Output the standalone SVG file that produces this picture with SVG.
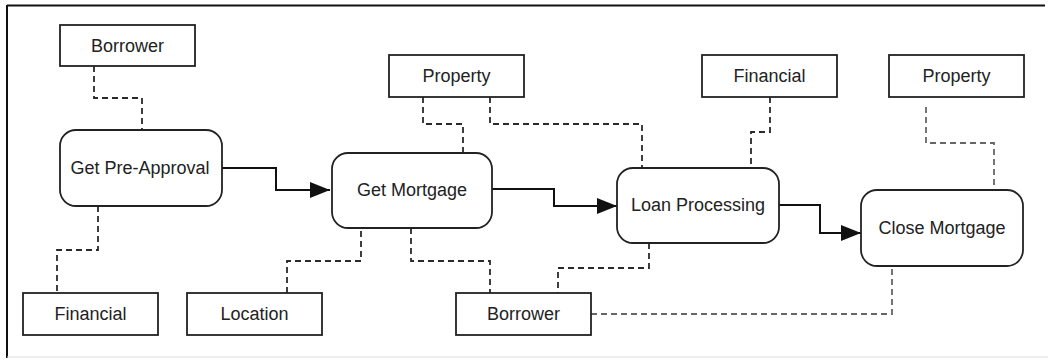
<svg xmlns="http://www.w3.org/2000/svg" width="1050" height="360" viewBox="0 0 1050 360">
<defs>
<marker id="arr" viewBox="0 0 20 16" refX="20" refY="8" markerWidth="20" markerHeight="16" markerUnits="userSpaceOnUse" orient="auto">
<path d="M0,0 L20,8 L0,16 Z" fill="#111"/>
</marker>
</defs>
<style>
.box{fill:#fff;stroke:#222;stroke-width:1.8}
.proc{fill:#fff;stroke:#222;stroke-width:1.8}
.t{font-family:"Liberation Sans",Arial,sans-serif;font-size:18px;fill:#222;text-anchor:middle}
.dash{fill:none;stroke:#2a2a2a;stroke-width:1.8;stroke-dasharray:6 4}
.dashl{fill:none;stroke:#666;stroke-width:1.8;stroke-dasharray:6 4}
.flow{fill:none;stroke:#111;stroke-width:2;marker-end:url(#arr)}
</style>
<rect width="1050" height="360" fill="#fff"/>
<g id="frame">
<line x1="7" y1="5.5" x2="1045" y2="5.5" stroke="#111" stroke-width="2"/>
<line x1="7" y1="5" x2="7" y2="358" stroke="#111" stroke-width="2"/>
<line x1="7" y1="357" x2="1048" y2="357" stroke="#ddd" stroke-width="1"/>
</g>
<g id="connectors">
<polyline class="dash" points="94,66 94,98 142,98 142,130"/>
<polyline class="dash" points="98,206 98,250 57,250 57,293"/>
<polyline class="dash" points="287,293 287,261 361,261 361,228"/>
<polyline class="dash" points="423,97 423,124 463,124 463,153"/>
<polyline class="dash" points="490,97 490,124 642,124 642,168"/>
<polyline class="dash" points="411,228 411,261 490,261 490,293"/>
<polyline class="dash" points="649,243 649,268 558,268 558,293"/>
<polyline class="dash" points="770,97 770,132 751,132 751,168"/>
<polyline class="dashl" points="926,107 926,143 994,143 994,190"/>
<polyline class="dashl" points="591,314 892,314 892,266"/>
<polyline class="flow" points="222,168 276,168 276,190 330,190"/>
<polyline class="flow" points="492,189 554,189 554,206 617,206"/>
<polyline class="flow" points="779,205 820,205 820,233 861,233"/>
</g>
<g id="n-borrower1"><rect class="box" x="60" y="25" width="135" height="41"/><text class="t" x="127.5" y="52">Borrower</text></g>
<g id="n-preapproval"><rect class="proc" x="60" y="130" width="162" height="76" rx="16"/><text class="t" x="140" y="174">Get Pre-Approval</text></g>
<g id="n-financial1"><rect class="box" x="23" y="293" width="135" height="42"/><text class="t" x="90.5" y="320">Financial</text></g>
<g id="n-location"><rect class="box" x="187" y="293" width="135" height="42"/><text class="t" x="254.5" y="320">Location</text></g>
<g id="n-property1"><rect class="box" x="389" y="55" width="135" height="42"/><text class="t" x="456.5" y="82">Property</text></g>
<g id="n-getmortgage"><rect class="proc" x="332" y="153" width="160" height="75" rx="16"/><text class="t" x="412" y="196">Get Mortgage</text></g>
<g id="n-borrower2"><rect class="box" x="456" y="293" width="135" height="42"/><text class="t" x="523.5" y="320">Borrower</text></g>
<g id="n-loan"><rect class="proc" x="617" y="168" width="162" height="75" rx="16"/><text class="t" x="698" y="211">Loan Processing</text></g>
<g id="n-financial2"><rect class="box" x="702" y="55" width="135" height="42"/><text class="t" x="769.5" y="82">Financial</text></g>
<g id="n-property2"><rect class="box" x="889" y="55" width="135" height="42"/><text class="t" x="956.5" y="82">Property</text></g>
<g id="n-close"><rect class="proc" x="861" y="190" width="162" height="76" rx="16"/><text class="t" x="942" y="234">Close Mortgage</text></g>
</svg>
